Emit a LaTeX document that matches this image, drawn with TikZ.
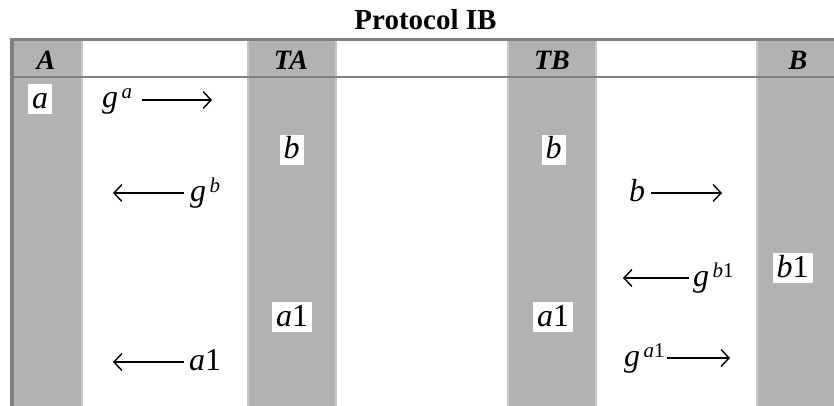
\documentclass[tikz,border=0pt]{standalone}
\usepackage{fontspec}
\setmainfont{Liberation Serif}
\usetikzlibrary{arrows.meta}

\definecolor{lanegray}{HTML}{B2B2B2}
\definecolor{rulegray}{HTML}{808080}
\definecolor{sepgray}{HTML}{C8C8C8}

% superscript of a message term
\newcommand{\msgsup}[1]{\raisebox{9pt}{\fontsize{21}{21}\selectfont\,#1}}

\tikzset{
    lane/.style={fill=lanegray, draw=none},
    sepline/.style={draw=sepgray, line width=2pt},
    ruleline/.style={draw=rulegray},
    hdr/.style={anchor=base, inner sep=0pt, font=\fontsize{28}{32}\selectfont\bfseries\itshape},
    val/.style={fill=white, inner xsep=4pt, inner ysep=2pt, text height=22pt, text depth=4pt,
        font=\fontsize{32}{36}\selectfont\itshape},
    term/.style={anchor=base west, inner sep=0pt, font=\fontsize{32}{36}\selectfont\itshape},
    msg/.style={line width=1.4pt}
}

\begin{document}
\begin{tikzpicture}[x=1pt, y=-1pt, >={Straight Barb[length=8pt, width=17pt]}]
                \useasboundingbox (0,0) rectangle (834,406);

                % Lanes
                \fill[lane] (14,41) rectangle (81,406);
                \fill[lane] (249,41) rectangle (335,406);
                \fill[lane] (509,41) rectangle (595,406);
                \fill[lane] (758,41) rectangle (834,406);
                \draw[sepline] (82,41) -- (82,406);
                \draw[sepline] (248,41) -- (248,406);
                \draw[sepline] (336,41) -- (336,406);
                \draw[sepline] (508,41) -- (508,406);
                \draw[sepline] (596,41) -- (596,406);
                \draw[sepline] (757,41) -- (757,406);

                % Frame
                \draw[ruleline, line width=4pt] (12,40) -- (12,406);
                \draw[ruleline, line width=3pt] (10,40) -- (834,40);
                \draw[ruleline, line width=2pt] (14,77) -- (834,77);

                % Title and headers
                \node[anchor=base, inner sep=0pt, font=\fontsize{29}{33}\selectfont\bfseries] at (425.5,30) (title) {Protocol IB};
                \node[hdr] at (46,70) (hA) {A};
                \node[hdr] at (291,70) (hTA) {TA};
                \node[hdr] at (552,70) (hTB) {TB};
                \node[hdr] at (798,70) (hB) {B};

                % Values
                \node[val] at (40,99.5) (va) {a};
                \node[val] at (291.5,150) (vbA) {b};
                \node[val] at (553.5,150) (vbB) {b};
                \node[val] at (292,317) (va1A) {a\upshape 1};
                \node[val] at (553,317) (va1B) {a\upshape 1};
                \node[val] at (792.5,268) (vb1) {b\upshape 1};

                % Messages
                \node[term] at (102,108) (ga) {g\msgsup{a}};
                \node[term] at (190,201) (gb) {g\msgsup{b}};
                \node[term] at (629,201) (mb) {b};
                \node[term] at (693,286) (gb1) {g\msgsup{b\upshape 1}};
                \node[term] at (189,370) (ma1) {a\upshape 1};
                \node[term] at (624,366) (ga1) {g\msgsup{a\upshape 1}};

                \coordinate (gaL) at (142,100);
                \coordinate (gaR) at (212,100);
                \coordinate (gbL) at (113,193);
                \coordinate (gbR) at (184,193);
                \coordinate (mbL) at (651,193);
                \coordinate (mbR) at (722,193);
                \coordinate (gb1L) at (623,278);
                \coordinate (gb1R) at (689,278);
                \coordinate (ma1L) at (113,362);
                \coordinate (ma1R) at (184,362);
                \coordinate (ga1L) at (667,358);
                \coordinate (ga1R) at (730,358);

                % Arrows
                \draw[msg, ->] (gaL) -- (gaR);
                
                \draw[msg, <-] (gbL) -- (gbR);
                
                \draw[msg, ->] (mbL) -- (mbR);
                
                \draw[msg, <-] (gb1L) -- (gb1R);
                
                \draw[msg, <-] (ma1L) -- (ma1R);
                
                \draw[msg, ->] (ga1L) -- (ga1R);
            \end{tikzpicture}
\end{document}
